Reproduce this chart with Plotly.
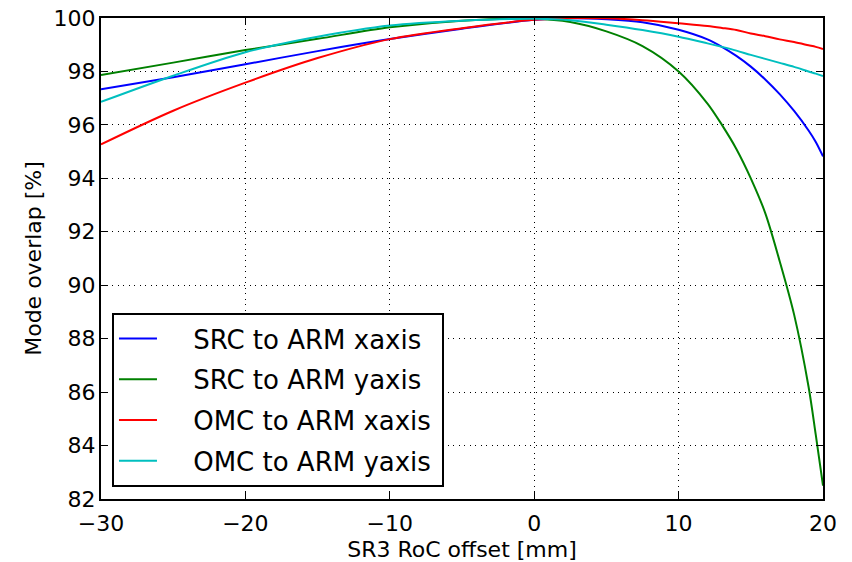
import plotly.graph_objects as go

x_mm = [-30, -25, -20, -15, -10, -5, 0, 2.5, 5, 7.5, 10, 12, 13, 14, 15, 16, 17, 18, 19, 19.5, 20]

src_x = [97.33, 97.78, 98.27, 98.76, 99.21, 99.60, 99.93, 99.99, 99.95, 99.84, 99.56, 99.20, 98.92,
         98.58, 98.18, 97.70, 97.15, 96.52, 95.79, 95.36, 94.82]
src_y = [97.87, 98.33, 98.80, 99.22, 99.65, 99.90, 99.97, 99.85, 99.50, 98.95, 98.00, 96.80, 96.00,
         95.10, 94.00, 92.70, 90.90, 88.90, 86.20, 84.40, 82.50]
omc_x = [95.27, 96.53, 97.58, 98.50, 99.21, 99.62, 99.93, 100.0, 99.99, 99.92, 99.80, 99.70, 99.63,
         99.55, 99.42, 99.32, 99.20, 99.10, 98.98, 98.92, 98.84]
omc_y = [96.86, 97.84, 98.72, 99.30, 99.72, 99.90, 99.97, 99.92, 99.75, 99.55, 99.30, 99.05, 98.92,
         98.78, 98.62, 98.47, 98.32, 98.17, 98.00, 97.92, 97.83]

names = ["SRC to ARM xaxis", "SRC to ARM yaxis", "OMC to ARM xaxis", "OMC to ARM yaxis"]
colors = ["#0000ff", "#008000", "#ff0000", "#00bfbf"]
series = [src_x, src_y, omc_x, omc_y]

x_ticks = [-30, -20, -10, 0, 10, 20]
y_ticks = [82, 84, 86, 88, 90, 92, 94, 96, 98, 100]

fig = go.Figure()
for i, (name, col, ys) in enumerate(zip(names, colors, series)):
    fig.add_trace(go.Scatter(x=x_mm, y=ys, mode="lines", name="\u2003\u2009" + name + "\u2009",
                             legendgroup="g%d" % i,
                             line=dict(color=col, width=2, shape="spline", smoothing=0.9)))

font = "DejaVu Sans"
axis_common = dict(
    showline=True, linecolor="black", linewidth=2, mirror="allticks",
    ticks="inside", ticklen=7, tickwidth=1, tickcolor="black",
    showgrid=True, gridcolor="black", gridwidth=1, griddash="1px,4.5px",
    zeroline=False, tickfont=dict(family=font, size=22, color="black"),
    automargin=False,
)

fig.update_layout(
    width=852, height=562,
    margin=dict(l=101, r=29, t=18, b=63),
    paper_bgcolor="white", plot_bgcolor="white",
    font=dict(family=font, color="black"),
    showlegend=True,
    legend=dict(x=0.0152, y=0.025, xanchor="left", yanchor="bottom",
                bgcolor="white", bordercolor="black", borderwidth=2,
                font=dict(family=font, size=26, color="black"),
                itemwidth=38, tracegroupgap=4),
    xaxis=dict(range=[-30, 20], tickvals=x_ticks, ticklabelstandoff=4,
               title=dict(text="SR3 RoC offset [mm]", font=dict(family=font, size=22), standoff=10),
               **axis_common),
    yaxis=dict(range=[82, 100], tickvals=y_ticks, ticklabelstandoff=-1,
               title=dict(text="Mode overlap [%]", font=dict(family=font, size=22), standoff=6),
               **axis_common),
)

fig.write_html("out.html", config={"displayModeBar": False},
               post_script="document.body.style.margin='0';document.body.style.overflow='hidden';")
